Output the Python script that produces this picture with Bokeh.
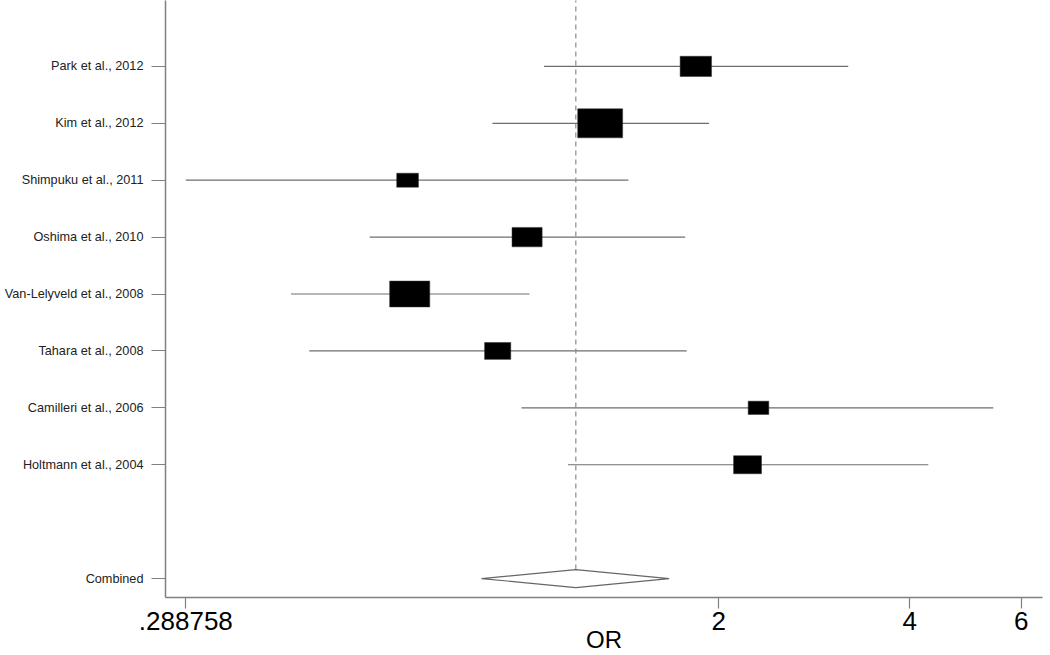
import math
from bokeh.plotting import figure
from bokeh.models import (ColumnDataSource, FixedTicker, Range1d, CustomJSTickFormatter)
from bokeh.embed import file_html
from bokeh.resources import INLINE

# ---- data ----
studies = ["Park et al., 2012", "Kim et al., 2012", "Shimpuku et al., 2011",
           "Oshima et al., 2010", "Van-Lelyveld et al., 2008", "Tahara et al., 2008",
           "Camilleri et al., 2006", "Holtmann et al., 2004"]
odds_ratio = [1.84, 1.30, 0.646, 0.997, 0.651, 0.896, 2.31, 2.22]
ci_low = [1.06, 0.879, 0.288758, 0.563, 0.423, 0.452, 0.977, 1.157]
ci_high = [3.20, 1.93, 1.44, 1.77, 1.006, 1.78, 5.42, 4.28]
weights = [12.5, 25.6, 6.0, 11.5, 20.4, 8.7, 5.4, 9.9]
combined_label = "Combined"
combined_or = 1.19
combined_low = 0.845
combined_high = 1.67
x_ticks = [0.288758, 2, 4, 6]
x_label = "OR"

FONT = "Liberation Sans"
n = len(studies)
ypos = [n + 2 - i for i in range(n)]   # 10 .. 3
ycomb = 1

box_h = [5.73 * math.sqrt(w) for w in weights]
box_w = [1.55 * h for h in box_h]

src = ColumnDataSource(dict(y=ypos, est=odds_ratio, lo=ci_low, hi=ci_high, bw=box_w, bh=box_h))

p = figure(width=1048, height=655, x_axis_type="log",
           x_range=Range1d(0.2682, 6.479), y_range=Range1d(0.667, 11.158),
           output_backend="svg", toolbar_location=None,
           min_border_left=165, min_border_right=6, min_border_top=0, min_border_bottom=57)
p.outline_line_color = None
p.xgrid.visible = False
p.ygrid.visible = False
p.background_fill_color = "white"
p.border_fill_color = "white"

# CI lines
p.segment(x0="lo", y0="y", x1="hi", y1="y", source=src, line_color="#6e6e6e", line_width=1.2)
# reference dashed line at combined estimate
d = 9 / 57
p.segment(x0=[combined_or], y0=[ycomb + d], x1=[combined_or], y1=[12],
          line_color="#8a8a8a", line_width=1.2, line_dash="5 4")
# boxes
p.rect(x="est", y="y", width="bw", height="bh", width_units="screen", height_units="screen",
       source=src, fill_color="black", line_color="#333333", line_width=0.5)
# diamond
p.patch(x=[combined_low, combined_or, combined_high, combined_or],
        y=[ycomb, ycomb + d, ycomb, ycomb - d],
        fill_color="white", line_color="#666666", line_width=1.2)

# y axis
yax = p.yaxis[0]
yax.ticker = FixedTicker(ticks=ypos + [ycomb])
overrides = {y: s for y, s in zip(ypos, studies)}
overrides[ycomb] = combined_label
yax.major_label_overrides = overrides
yax.major_tick_out = 14
yax.major_tick_in = 0
yax.minor_tick_out = 0
yax.minor_tick_in = 0
yax.major_label_standoff = 8
yax.major_label_text_font = FONT
yax.major_label_text_font_size = "12.7px"
yax.major_label_text_color = "#222222"
yax.axis_line_color = "#808080"
yax.axis_line_width = 1.5
yax.major_tick_line_color = "#808080"
yax.major_tick_line_width = 1.2

# x axis
xax = p.xaxis[0]
xax.ticker = FixedTicker(ticks=x_ticks, minor_ticks=[])
xax.formatter = CustomJSTickFormatter(code="var s = String(tick); return tick < 1 ? s.replace(/^0/, '') : s;")
xax.major_tick_out = 11
xax.major_tick_in = 0
xax.major_label_standoff = 3
xax.major_label_text_font = FONT
xax.major_label_text_font_size = "26px"
xax.major_label_text_color = "black"
xax.axis_line_color = "#808080"
xax.axis_line_width = 1.5
xax.major_tick_line_color = "#808080"
xax.major_tick_line_width = 1.2
xax.axis_label = x_label
xax.axis_label_text_font = FONT
xax.axis_label_text_font_size = "24px"
xax.axis_label_text_font_style = "normal"
xax.axis_label_text_color = "black"
xax.axis_label_standoff = -7

open("out.html", "w").write(file_html(p, INLINE))
